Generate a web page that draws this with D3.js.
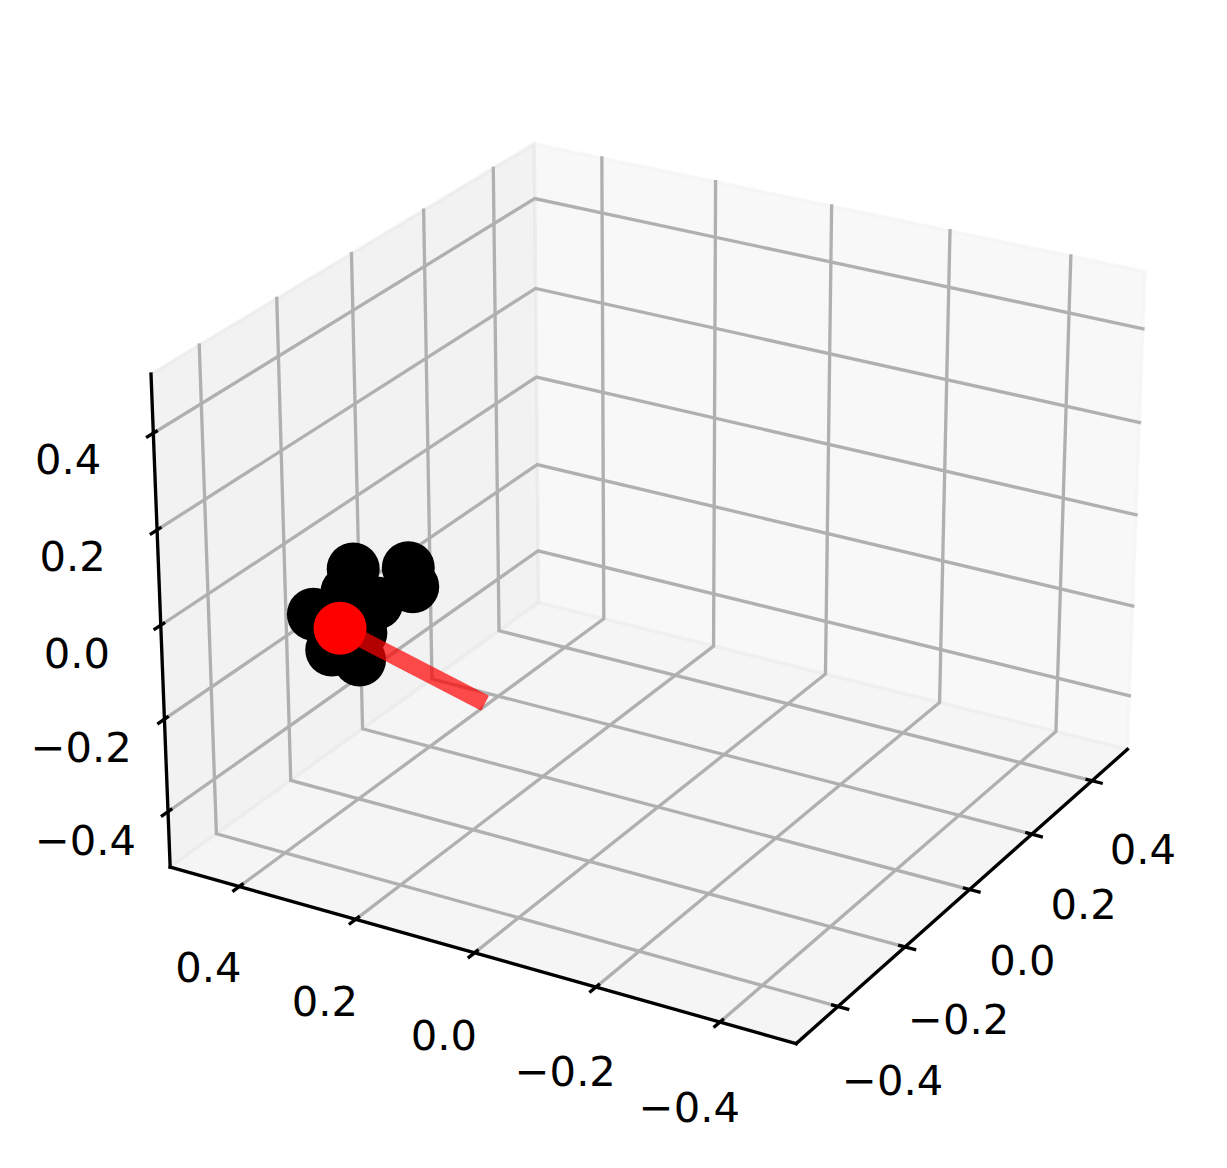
<!DOCTYPE html>
<html>
<head>
<meta charset="utf-8">
<script src="https://cdn.jsdelivr.net/npm/d3@7"></script>
<style>
  html, body { margin: 0; padding: 0; background: #fff; }
  svg { display: block; }
  text { font-family: "DejaVu Sans"; font-size: 41.67px; fill: #000; }
</style>
</head>
<body>
<div id="chart"></div>
<script>
// tick values and labels (same on all three axes)
const tickValues = [-0.4, -0.2, 0.0, 0.2, 0.4];
const tickLabels = ["\u22120.4", "\u22120.2", "0.0", "0.2", "0.4"];

// black points
const blackX = [-0.12, -0.2, -0.15, -0.2, -0.15, -0.05, -0.1, -0.1, -0.12, -0.05];
const blackY = [0.4524, 0.3043, 0.3292, 0.4721, 0.4743, 0.4907, 0.4775, 0.4511, 0.412, 0.4872];
const blackZ = [-0.076, 0.0158, -0.0599, -0.1375, -0.2441, -0.3274, -0.1451, -0.1542, -0.1376, -0.2663];

// red point, and the segment leaving it
const redX = [-0.1, 0.0];
const redY = [0.4915, 0.3002];
const redZ = [-0.2293, -0.3902];

const width = 1227, height = 1168;
const lw = 3.33; // 0.8pt at 300 dpi

// camera
const elev = 25 * Math.PI / 180, azim = -150 * Math.PI / 180, dist = 10;
const edge = 0.5 + 1 / 48; // pane sits a little outside the limits

const boxX = d3.scaleLinear().domain([-0.5, 0.5]).range([-0.5714, 0.5714]);
const boxY = d3.scaleLinear().domain([-0.5, 0.5]).range([-0.5714, 0.5714]);
const boxZ = d3.scaleLinear().domain([-0.5, 0.5]).range([-0.4286, 0.4286]);

const screenX = d3.scaleLinear().domain([-0.095, 0.09]).range([88.5, 1197.6]);
const screenY = d3.scaleLinear().domain([-0.095, 0.09]).range([1138.5, 29.4]);

const w = [Math.cos(elev) * Math.cos(azim), Math.cos(elev) * Math.sin(azim), Math.sin(elev)];
const un = Math.hypot(w[0], w[1]);
const u = [-w[1] / un, w[0] / un, 0];
const v = [w[1] * u[2] - w[2] * u[1], w[2] * u[0] - w[0] * u[2], w[0] * u[1] - w[1] * u[0]];
const dot = (a, b) => a[0] * b[0] + a[1] * b[1] + a[2] * b[2];

function project(x, y, z) {
    const p = [boxX(x), boxY(y), boxZ(z)];
    const d = dist - dot(w, p);
    return [screenX(dot(u, p) / d), screenY(dot(v, p) / d)];
}

const line3d = d3.line().x(d => project(...d)[0]).y(d => project(...d)[1]);

const svg = d3.select("#chart").append("svg")
    .attr("width", width)
    .attr("height", height);

// panes
const e = edge;
const panes = [
    { c: "rgba(242,242,242,0.5)", pts: [[e, -e, -e], [e, e, -e], [e, e, e], [e, -e, e]] },
    { c: "rgba(230,230,230,0.5)", pts: [[-e, e, -e], [e, e, -e], [e, e, e], [-e, e, e]] },
    { c: "rgba(236,236,236,0.5)", pts: [[-e, -e, -e], [e, -e, -e], [e, e, -e], [-e, e, -e]] }
];
svg.append("g").selectAll("path")
    .data(panes)
    .enter()
    .append("path")
    .attr("d", d => line3d(d.pts) + "Z")
    .attr("fill", d => d.c)
    .attr("stroke", d => d.c)
    .attr("stroke-width", lw);

// grid lines
const grid = [
    ...tickValues.map(t => [[t, -e, -e], [t, e, -e], [t, e, e]]),
    ...tickValues.map(t => [[-e, t, -e], [e, t, -e], [e, t, e]]),
    ...tickValues.map(t => [[-e, e, t], [e, e, t], [e, -e, t]])
];
svg.append("g").selectAll("path")
    .data(grid)
    .enter()
    .append("path")
    .attr("d", line3d)
    .attr("fill", "none")
    .attr("stroke", "#b0b0b0")
    .attr("stroke-width", lw)
    .attr("stroke-linecap", "square")
    .attr("stroke-linejoin", "miter");

// axis lines
const axes = [
    [[-e, -e, -e], [e, -e, -e]],
    [[-e, -e, -e], [-e, e, -e]],
    [[-e, e, -e], [-e, e, e]]
];
svg.append("g").selectAll("path")
    .data(axes)
    .enter()
    .append("path")
    .attr("d", line3d)
    .attr("fill", "none")
    .attr("stroke", "#000")
    .attr("stroke-width", lw)
    .attr("stroke-linecap", "square");

// tick marks
const out = 0.018, inw = 0.011;
const ticks = [
    ...tickValues.map(t => [[t, -e - out, -e], [t, -e + inw, -e]]),
    ...tickValues.map(t => [[-e - out, t, -e], [-e + inw, t, -e]]),
    ...tickValues.map(t => [[-e - out, e, t], [-e + inw, e, t]])
];
svg.append("g").selectAll("path")
    .data(ticks)
    .enter()
    .append("path")
    .attr("d", line3d)
    .attr("fill", "none")
    .attr("stroke", "#000")
    .attr("stroke-width", lw);

// tick labels, pushed off the edges in data units
const labelPos = [
    ...tickValues.map((t, i) => ({ p: [t, -e - 0.088, -e - 0.1226], s: tickLabels[i] })),
    ...tickValues.map((t, i) => ({ p: [-e - 0.0851, t, -e - 0.123], s: tickLabels[i] })),
    ...tickValues.map((t, i) => ({ p: [-e - 0.133, e + 0.0527, t], s: tickLabels[i] }))
];
svg.append("g").selectAll("text")
    .data(labelPos)
    .enter()
    .append("text")
    .attr("x", d => project(...d.p)[0])
    .attr("y", d => project(...d.p)[1])
    .attr("dy", "0.365em")
    .attr("text-anchor", "middle")
    .text(d => d.s);

// black points
svg.append("g").selectAll("circle")
    .data(d3.range(blackX.length))
    .enter()
    .append("circle")
    .attr("cx", i => project(blackX[i], blackY[i], blackZ[i])[0])
    .attr("cy", i => project(blackX[i], blackY[i], blackZ[i])[1])
    .attr("r", 26.5)
    .attr("fill", "#000");

// red segment
svg.append("path")
    .datum(d3.range(redX.length).map(i => [redX[i], redY[i], redZ[i]]))
    .attr("d", line3d)
    .attr("fill", "none")
    .attr("stroke", "#f00")
    .attr("stroke-opacity", 0.7)
    .attr("stroke-width", 16.67);

// red point
svg.append("circle")
    .attr("cx", project(redX[0], redY[0], redZ[0])[0])
    .attr("cy", project(redX[0], redY[0], redZ[0])[1])
    .attr("r", 26.5)
    .attr("fill", "#f00");
</script>
</body>
</html>
